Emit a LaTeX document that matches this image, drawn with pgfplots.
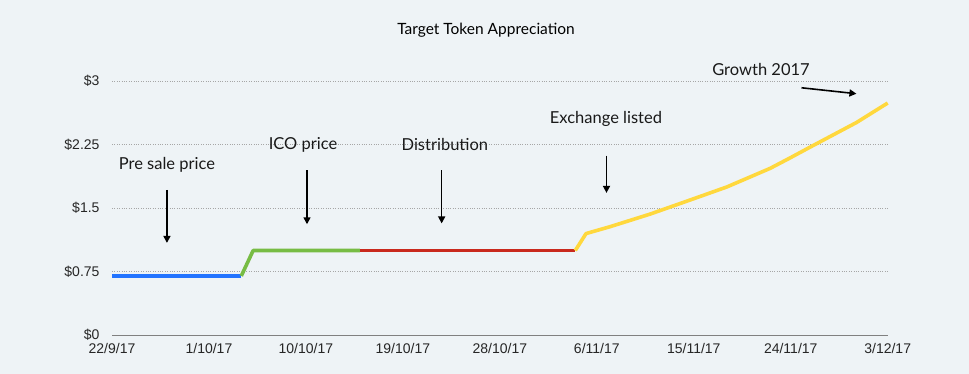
\documentclass[border=0pt]{standalone}
\usepackage{pgfplots}
\pgfplotsset{compat=1.18}
\usepackage{fontspec}
\setmainfont{Lato}
\newfontfamily\tickfont{Liberation Sans}
\usetikzlibrary{arrows.meta}
\definecolor{bg}{HTML}{EEF3F6}
\definecolor{cblue}{HTML}{2374FF}
\definecolor{cgreen}{HTML}{77BC44}
\definecolor{cred}{HTML}{C9291D}
\definecolor{cyellow}{HTML}{FFD83D}
\begin{document}
\begin{tikzpicture}
\fill[bg] (0,0) rectangle (969pt,374pt);
\node[font=\fontsize{15.5}{17}\selectfont] at (486pt,344pt) {Target Token Appreciation};
\begin{axis}[
  at={(112pt,38.7pt)}, anchor=south west,
  width=775.7pt, height=254.3pt, scale only axis,
  xmin=0, xmax=72, ymin=0, ymax=3,
  clip=false,
  axis x line*=bottom, axis y line*=left,
  y axis line style={draw=none},
  x axis line style={draw=gray, line width=1pt, -},
  major tick length=0pt,
  xtick={0,9,18,27,36,45,54,63,72},
  xticklabels={22/9/17,1/10/17,10/10/17,19/10/17,28/10/17,6/11/17,15/11/17,24/11/17,3/12/17},
  ytick={0,0.75,1.5,2.25,3},
  yticklabels={\$0,\$0.75,\$1.5,\$2.25,\$3},
  ticklabel style={font=\tickfont\fontsize{14}{16}\selectfont, text=black!85},
  yticklabel style={xshift=-9pt},
  xticklabel style={yshift=-5pt},
  ymajorgrids=true,
  major grid style={dotted, gray!70, line width=0.5pt},
  every axis plot/.append style={line width=3.6pt, line cap=butt, line join=round, mark=none},
]
\addplot[cblue] coordinates {(0,0.70) (12,0.70)};
\addplot[cgreen] coordinates {(12,0.70) (13.1,1.0) (23,1.0)};
\addplot[cred] coordinates {(23,1.0) (43,1.0)};
\addplot[cyellow] coordinates {(43,1.0) (44.0,1.20) (46.2,1.28) (49.95,1.43) (53.97,1.61) (57.07,1.75) (61.1,1.97) (62.9,2.09) (64.8,2.22) (69.1,2.51) (72,2.74)};
\begin{scope}[every node/.style={font=\fontsize{16.5}{18}\selectfont, text=black!90}]
\node at (axis cs:5.1,2.01) {Pre sale price};
\node at (axis cs:17.73,2.25) {ICO price};
\node at (axis cs:30.9,2.25) {Distribution};
\node at (axis cs:45.85,2.55) {Exchange listed};
\node at (axis cs:60.24,3.14) {Growth 2017};
\end{scope}
\begin{scope}[line width=1.6pt, -{Triangle[width=7pt,length=7pt]}]
\draw (axis cs:5.1,1.715) -- (axis cs:5.1,1.09);
\draw (axis cs:18.1,1.95) -- (axis cs:18.1,1.31);
\draw (axis cs:30.6,1.95) -- (axis cs:30.6,1.32);
\draw (axis cs:45.9,2.12) -- (axis cs:45.9,1.68);
\draw (axis cs:64.0,2.92) -- (axis cs:69.1,2.85);
\end{scope}
\end{axis}
\end{tikzpicture}
\end{document}
